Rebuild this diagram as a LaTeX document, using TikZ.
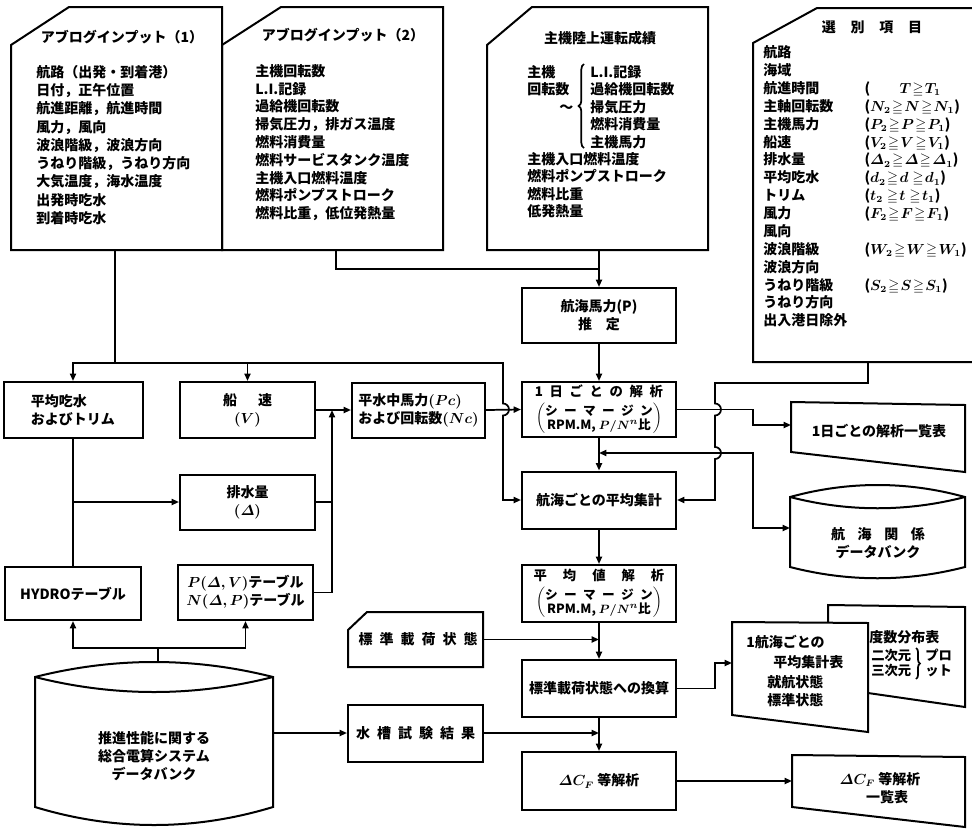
\documentclass[tikz,border=0pt]{standalone}
\usepackage{amsmath,amssymb}
\usepackage{fontspec}
\setmainfont{Noto Sans CJK JP}
\usetikzlibrary{arrows.meta,calc,decorations.pathreplacing}
\newcommand{\gapA}{\hspace{.5em}}
\newcommand{\SMpar}{{\fontsize{9.5}{10}\selectfont$\left(\renewcommand{\arraystretch}{0.8}\begin{tabular}{@{}c@{}}シ\gapA ー\gapA マ\gapA ー\gapA ジ\gapA ン\\RPM.M, $P/N^n$比\end{tabular}\right)$}}
\begin{document}
\begin{tikzpicture}[x=0.75pt,y=-0.75pt,
  lw/.style={line width=1.5pt, line join=miter},
  conn/.style={line width=1.3pt},
  arr/.style={conn,-{Triangle[length=5.5pt,width=4.5pt]}},
  darr/.style={conn,{Triangle[length=5.5pt,width=4.5pt]}-{Triangle[length=5.5pt,width=4.5pt]}},
  tx/.style={font=\fontsize{10.5}{13.5}\selectfont\bfseries\boldmath, inner sep=0pt},
  box/.style 2 args={draw, line width=1.5pt, minimum width=#1*0.75pt, minimum height=#2*0.75pt, inner sep=1pt, align=center, font=\fontsize{10.5}{13.5}\selectfont\bfseries\boldmath},
  area/.style 2 args={minimum width=#1*0.75pt, minimum height=#2*0.75pt, inner sep=1pt, align=center, font=\fontsize{10.5}{13.5}\selectfont\bfseries\boldmath},
]
\fill[white] (0,0) rectangle (972,829);
\clip (0,0) rectangle (972,829);

% ---------- top cards ----------
\draw[lw] (11,250) -- (11,45) -- (69,7) -- (222,7) -- (222,250) -- cycle;
\draw[lw] (222,250) -- (222,45) -- (281,7) -- (443,7) -- (443,250) -- cycle;
\draw[lw] (487,250) -- (487,45) -- (532,7) -- (708,7) -- (708,250) -- cycle;
\draw[lw] (990,362) -- (753,362) -- (753,43) -- (817,8) -- (990,8);
\coordinate (c1b) at (115,250);
\coordinate (c2b) at (336,250);
\coordinate (c3b) at (599,250);
\coordinate (c4b) at (868,362);

\node[tx] (c1t) at (122,37) {アブログインプット（1）};
\node[tx,anchor=north west,align=left,font=\fontsize{10.5}{13.7}\selectfont\bfseries] (c1x) at (36,65)
 {航路（出発・到着港）\\日付，正午位置\\航進距離，航進時間\\風力，風向\\波浪階級，波浪方向\\うねり階級，うねり方向\\大気温度，海水温度\\出発時吃水\\到着時吃水};

\node[tx] (c2t) at (343,35) {アブログインプット（2）};
\node[tx,anchor=north west,align=left,font=\fontsize{10.5}{13.35}\selectfont\bfseries] (c2x) at (255,64)
 {主機回転数\\L.I.記録\\過給機回転数\\掃気圧力，排ガス温度\\燃料消費量\\燃料サービスタンク温度\\主機入口燃料温度\\燃料ポンプストローク\\燃料比重，低位発熱量};

\node[tx] (c3t) at (600,38) {主機陸上運転成績};
\node[tx,anchor=north west,align=left,font=\fontsize{10.5}{13.1}\selectfont\bfseries] (c3a) at (527,65)
 {主機\\回転数\\\hspace*{2.3em}〜};
\draw[conn,decorate,decoration={brace,amplitude=4pt}] (584,148) -- (584,64);
\node[tx,anchor=north west,align=left,font=\fontsize{10.5}{13.1}\selectfont\bfseries] (c3b2) at (590,65)
 {L.I.記録\\過給機回転数\\掃気圧力\\燃料消費量\\主機馬力};
\node[tx,anchor=north west,align=left,font=\fontsize{10.5}{13.1}\selectfont\bfseries] (c3c) at (527,152)
 {主機入口燃料温度\\燃料ポンプストローク\\燃料比重\\低発熱量};

\node[tx] (c4t) at (872,27) {選\hspace{1.05em}別\hspace{1.05em}項\hspace{1.05em}目};
\node[tx,anchor=north west,font=\fontsize{10.5}{13.4}\selectfont\bfseries\boldmath] (c4x) at (763,45)
 {\thickmuskip=1.5mu\begin{tabular}{@{}p{76pt}@{}l@{}}
 航路 & \\
 海域 & \\
 航進時間 & (\hspace{2.1em}$T\geqq T_1$\\
 主軸回転数 & ($N_2\geqq N\geqq N_1$)\\
 主機馬力 & ($P_2\geqq P\geqq P_1$)\\
 船速 & ($V_2\geqq V\geqq V_1$)\\
 排水量 & ($\varDelta_2\geqq \varDelta\geqq \varDelta_1$)\\
 平均吃水 & ($d_2\geqq d\,\geqq d_1$)\\
 トリム & ($t_2\,\geqq t\,\geqq t_1$)\\
 風力 & ($F_2\geqq F\geqq F_1$)\\
 風向 & \\
 波浪階級 & ($W_2\geqq W\geqq W_1$)\\
 波浪方向 & \\
 うねり階級 & ($S_2\geqq S\geqq S_1$)\\
 うねり方向 & \\
 出入港日除外 & \\
 \end{tabular}};

% ---------- main column ----------
\node[box={154}{55}] (mp) at (599,315.5) {航海馬力(P)\\推\hspace{1em}定};
\node[box={154}{55},font=\fontsize{10}{11}\selectfont\bfseries\boldmath] (d1) at (599,409.5)
 {1\gapA 日\gapA ご\gapA と\gapA の\gapA 解\gapA 析\\[3pt]\SMpar};
\node[box={154}{57}] (va) at (599,500) {航海ごとの平均集計};
\node[box={154}{57},font=\fontsize{10}{11}\selectfont\bfseries\boldmath] (av) at (599,593.5)
 {平\hspace{1.2em}均\hspace{1.2em}値\hspace{1.2em}解\hspace{1.2em}析\\[3pt]\SMpar};
\node[box={154}{57}] (sc) at (599,688.5) {標準載荷状態への換算};
\node[box={154}{58}] (cf) at (599,781) {$\varDelta C_F$ 等解析};

% ---------- left part ----------
\node[box={139}{56},align=left] (tr) at (73,410) {平均吃水\\およびトリム};
\node[box={135}{56}] (sv) at (247.5,410) {船\hspace{1.5em}速\\$(V)$};
\node[box={133}{55},align=left] (pc) at (418.5,410) {平水中馬力$(Pc)$\\および回転数$(Nc)$};
\node[box={135}{55}] (dp) at (247.5,502) {排水量\\$(\varDelta)$};
\node[box={136}{53}] (hy) at (73,593.5) {HYDROテーブル};
\node[box={135}{55}] (pt) at (245.5,592.5) {$P(\varDelta,V)$テーブル\\$N(\varDelta,P)$テーブル};
\node[box={135}{57}] (wt) at (415.5,733) {水\gapA 槽\gapA 試\gapA 験\gapA 結\gapA 果};
\node[area={135}{55}] (sl) at (415.5,639.5) {\hspace{4pt}標\gapA 準\gapA 載\gapA 荷\gapA 状\gapA 態};
\draw[lw] (348,667) -- (348,630) -- (367,612) -- (483,612) -- (483,667) -- cycle;

% database (bottom left)
\draw[lw] (35,677) .. controls (114,657) and (194,657) .. (273,677) -- (273,807)
  .. controls (194,831) and (114,831) .. (35,807) -- cycle;
\draw[lw] (35,677) .. controls (114,697) and (194,697) .. (273,677);
\node[area={238}{100}] (db) at (154,756) {推進性能に関する\\総合電算システム\\データバンク};
\coordinate (dbtop) at (158,662);
\coordinate (dbe) at (273,733);

% ---------- right documents ----------
\draw[lw] (791,402) -- (965,405) -- (965,472) -- (791,452) -- cycle;
\node[tx] (doc1) at (879,431) {1日ごとの解析一覧表};
\coordinate (doc1w) at (791,425);

\draw[lw] (790,497) .. controls (848,481) and (907,481) .. (965,497) -- (965,567)
  .. controls (907,582) and (848,582) .. (790,567) -- cycle;
\draw[lw] (790,497) .. controls (848,512) and (907,512) .. (965,497);
\node[tx,align=center] (bank) at (878,543) {航\hspace{.9em}海\hspace{.9em}関\hspace{.9em}係\\データバンク};
\coordinate (bankw) at (790,528);

\draw[lw] (828,622) -- (828,605) -- (965,607) -- (965,707) -- (868,693);
\draw[lw] (732,622) -- (868,623) -- (868,732) -- (732,715) -- cycle;
\node[tx,anchor=west] (p1) at (746,642) {1航海ごとの};
\node[tx,anchor=west] (p2) at (773,662) {平均集計表};
\node[tx,anchor=west] (p3) at (767,682) {就航状態};
\node[tx,anchor=west] (p4) at (767,700) {標準状態};
\node[tx,anchor=west] (q1) at (869,637) {度数分布表};
\node[tx,anchor=west,align=left,font=\fontsize{10}{11.3}\selectfont\bfseries] (q2) at (871,663) {二次元\\三次元};
\draw[conn,decorate,decoration={brace,amplitude=3pt}] (916,648) -- (916,679);
\node[tx,anchor=west,align=left,font=\fontsize{10}{11.3}\selectfont\bfseries] (q3) at (925,663) {プロ\\ット};
\coordinate (doc3w) at (732,663);

\draw[lw] (792,755) -- (965,757) -- (965,827) -- (792,807) -- cycle;
\node[tx,align=center] (doc2) at (880,788) {$\varDelta C_F$ 等解析\\\hspace{1em}一覧表};
\coordinate (doc2w) at (792,781);

% ---------- connectors ----------
\draw[conn] (c2b) |- (599,269);
\draw[arr] (c3b) -- (mp.north);
\coordinate (h1) at (115,363);
\draw[conn] (c1b) -- (h1);
\draw[arr] (h1) -| (tr.north);
\draw[arr] (h1) -| (sv.north);
\draw[arr] (h1) -- (503,363) -- (503,403.5) arc[start angle=-90,end angle=90,radius=6] -- (503,500) -- (va.west);
\draw[arr] (sv.east) -- (pc.west);
\coordinate (jn1) at (332,410);
\draw[arr] (dp.east) -| (jn1);
\draw[conn] (pt.east) -| (332,502);
\draw[conn] (tr.south) -- (hy.north);
\draw[arr] (73,502) -- (dp.west);
\draw[conn] (dbtop) -- (158,648);
\draw[arr] (158,648) -| (hy.south);
\draw[arr] (158,648) -| (pt.south);
\draw[arr] (dbe) -- (wt.west);

\draw[arr] (pc.east) -- (d1.west);
\draw[arr] (mp.south) -- (d1.north);
\draw[arr] (d1.south) -- (va.north);
\coordinate (j2) at (599,453);
\draw[darr] (j2) -- (753,453) -- (753,528) -- (bankw);
\draw[arr] (d1.east) -| (753,425) -- (doc1w);
\draw[arr] (c4b) -- (868,383) -- (715,383) -- (715,403.5) arc[start angle=-90,end angle=90,radius=6]
  -- (715,447) arc[start angle=-90,end angle=90,radius=6] -- (715,500) -- (va.east);
\draw[arr] (va.south) -- (av.north);
\draw[arr] (av.south) -- (sc.north);
\draw[arr] (sl.east) -- (sl.east -| av.south);
\draw[arr] (sc.south) -- (cf.north);
\draw[arr] (wt.east) -- (wt.east -| sc.south);
\draw[arr] (cf.east) -- (doc2w);
\draw[arr] (sc.east) -- (715,688.5) -- (715,663) -- (doc3w);
\end{tikzpicture}
\end{document}
